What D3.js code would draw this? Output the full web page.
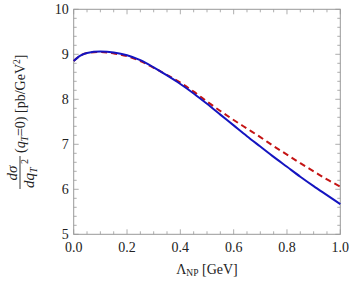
<!DOCTYPE html>
<html>
<head>
<meta charset="utf-8">
<script src="https://cdn.jsdelivr.net/npm/d3@7"></script>
<style>
body { margin: 0; background: #fff; }
svg text { font-family: "Liberation Serif", "Times New Roman", Times, serif; fill: #222; }
</style>
</head>
<body>
<script>
var lambdaNP = [0, 0.025, 0.05, 0.1, 0.15, 0.2, 0.25, 0.3, 0.35, 0.4, 0.45, 0.5,
                0.55, 0.6, 0.65, 0.7, 0.75, 0.8, 0.85, 0.9, 0.95, 1.0];
var blueSolid = [8.85, 8.97, 9.03, 9.06, 9.04, 8.98, 8.87, 8.71, 8.53, 8.34, 8.13, 7.90,
                 7.66, 7.42, 7.18, 6.95, 6.72, 6.50, 6.28, 6.07, 5.87, 5.67];
var redDashed = [8.85, 8.97, 9.03, 9.05, 9.02, 8.96, 8.85, 8.70, 8.54, 8.37, 8.17, 7.95,
                 7.74, 7.54, 7.35, 7.16, 6.96, 6.77, 6.58, 6.40, 6.22, 6.06];
var xTicks = [0, 0.2, 0.4, 0.6, 0.8, 1.0];
var yTicks = [5, 6, 7, 8, 9, 10];

var width = 349,
    height = 281,
    margin = {left: 73.7, right: 8.7, top: 9.3, bottom: 46.7};

var svg = d3.select("body").append("svg")
    .attr("width", width)
    .attr("height", height);

var x = d3.scaleLinear().domain([0, 1]).range([margin.left, width - margin.right]);
var y = d3.scaleLinear().domain([5, 10]).range([height - margin.bottom, margin.top]);

var frameColor = "#999";

// ticks on all four sides, pointing inward
var xMinor = d3.range(0, 1.0001, 0.05),
    yMinor = d3.range(5, 10.0001, 0.2);

function isMajor(v, list) {
    return list.some(function(t) { return Math.abs(t - v) < 1e-6; });
}

var ticks = svg.append("g").attr("stroke", frameColor).attr("stroke-width", 0.8);

xMinor.forEach(function(v) {
    var len = isMajor(v, xTicks) ? 5 : 3;
    ticks.append("line").attr("x1", x(v)).attr("x2", x(v))
        .attr("y1", y(5)).attr("y2", y(5) - len);
    ticks.append("line").attr("x1", x(v)).attr("x2", x(v))
        .attr("y1", y(10)).attr("y2", y(10) + len);
});
yMinor.forEach(function(v) {
    var len = isMajor(v, yTicks) ? 5 : 3;
    ticks.append("line").attr("y1", y(v)).attr("y2", y(v))
        .attr("x1", x(0)).attr("x2", x(0) + len);
    ticks.append("line").attr("y1", y(v)).attr("y2", y(v))
        .attr("x1", x(1)).attr("x2", x(1) - len);
});

svg.append("rect")
    .attr("x", x(0)).attr("y", y(10))
    .attr("width", x(1) - x(0)).attr("height", y(5) - y(10))
    .attr("fill", "none")
    .attr("stroke", frameColor)
    .attr("stroke-width", 1);

// tick labels
svg.selectAll(".xl").data(xTicks).enter().append("text")
    .attr("x", function(d) { return x(d); })
    .attr("y", 251.5)
    .attr("text-anchor", "middle")
    .attr("font-size", 14)
    .text(function(d) { return d3.format(".1f")(d); });

svg.selectAll(".yl").data(yTicks).enter().append("text")
    .attr("x", x(0) - 5)
    .attr("y", function(d) { return y(d) + 4.5; })
    .attr("text-anchor", "end")
    .attr("font-size", 14)
    .text(function(d) { return d; });

// curves
var line = d3.line()
    .x(function(d) { return x(d[0]); })
    .y(function(d) { return y(d[1]); })
    .curve(d3.curveMonotoneX);

svg.append("path")
    .datum(d3.zip(lambdaNP, redDashed))
    .attr("d", line)
    .attr("fill", "none")
    .attr("stroke", "#c41414")
    .attr("stroke-width", 2)
    .attr("stroke-dasharray", "6,4");

svg.append("path")
    .datum(d3.zip(lambdaNP, blueSolid))
    .attr("d", line)
    .attr("fill", "none")
    .attr("stroke", "#1414c0")
    .attr("stroke-width", 2);

// x label
var xl = svg.append("text")
    .attr("x", (x(0) + x(1)) / 2)
    .attr("y", 274)
    .attr("text-anchor", "middle")
    .attr("font-size", 14);
xl.append("tspan").text("\u039B");
xl.append("tspan").attr("font-size", 9.5).attr("dy", 1.5).text("NP");
xl.append("tspan").attr("dy", -1.5).text(" [GeV]");

// y label, rotated
var yl = svg.append("g").attr("transform", "translate(20,172) rotate(-90)");

yl.append("line")
    .attr("x1", -17).attr("x2", 16)
    .attr("y1", 0).attr("y2", 0)
    .attr("stroke", "#222").attr("stroke-width", 0.9);

yl.append("text")
    .attr("x", -1).attr("y", -3.5)
    .attr("text-anchor", "middle")
    .attr("font-size", 15)
    .attr("font-style", "italic")
    .text("d\u03C3");

var den = yl.append("text")
    .attr("x", -16).attr("y", 13.5)
    .attr("font-size", 15)
    .attr("font-style", "italic");
den.append("tspan").text("dq");
den.append("tspan").attr("font-size", 10).attr("dy", 3).text("T");
yl.append("text")
    .attr("x", 8).attr("y", 7.5)
    .attr("font-size", 10)
    .text("2");

var rest = yl.append("text")
    .attr("x", 19).attr("y", 5)
    .attr("font-size", 14);
rest.append("tspan").text("(");
rest.append("tspan").attr("font-style", "italic").text("q");
rest.append("tspan").attr("font-style", "italic").attr("font-size", 9.5).attr("dy", 3).text("T");
rest.append("tspan").attr("dy", -3).text("=0) [pb/GeV");
rest.append("tspan").attr("font-size", 9.5).attr("dy", -5).text("2");
rest.append("tspan").attr("dy", 5).text("]");
</script>
</body>
</html>
